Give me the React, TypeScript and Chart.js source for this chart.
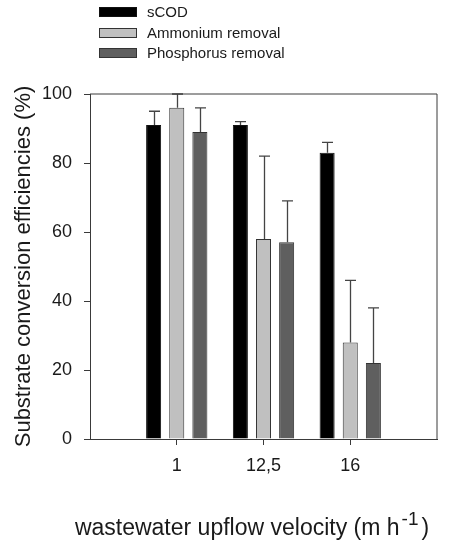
import React, { useEffect, useRef } from 'react';
import { Chart, registerables } from 'chart.js';

Chart.register(...registerables);

const categories = ['', '1', '12,5', '16', ''];
const seriesNames = ['sCOD', 'Ammonium removal', 'Phosphorus removal'];
const scodValues = [null, 91, 91, 83, null];
const ammoniumValues = [null, 96, 58, 28, null];
const phosphorusValues = [null, 89, 57, 22, null];
const scodErrors = [null, 4, 1, 3, null];
const ammoniumErrors = [null, 4, 24, 18, null];
const phosphorusErrors = [null, 7, 12, 16, null];
const yMin = 0;
const yMax = 100;
const yStep = 20;
const yTitle = 'Substrate conversion efficiencies (%)';
const xTitleMain = 'wastewater upflow velocity (m h';
const xTitleSup = '-1';
const xTitleEnd = ')';

const FONT = '"Liberation Sans", Arial, Helvetica, sans-serif';
const fills = ['#000000', '#c0c0c0', '#5f5f5f'];
const borders = ['#111111', '#333333', '#333333'];
const AXIS = '#3a3a3a';

const errorBarPlugin = {
  id: 'errorBars',
  afterDatasetsDraw(chart: any) {
    const ctx = chart.ctx;
    const yScale = chart.scales.y;
    ctx.save();
    ctx.strokeStyle = '#444444';
    ctx.lineWidth = 1.3;
    chart.data.datasets.forEach((ds: any, i: number) => {
      const meta = chart.getDatasetMeta(i);
      meta.data.forEach((el: any, j: number) => {
        const v = ds.data[j];
        const e = ds.errors[j];
        if (v == null || e == null) return;
        const yTop = yScale.getPixelForValue(v + e);
        const x = Math.round(el.x) + 0.5;
        ctx.beginPath();
        ctx.moveTo(x, el.y);
        ctx.lineTo(x, yTop);
        ctx.moveTo(x - 5.5, yTop);
        ctx.lineTo(x + 5.5, yTop);
        ctx.stroke();
      });
    });
    ctx.restore();
  },
};

const framePlugin = {
  id: 'frame',
  afterDraw(chart: any) {
    const { ctx, chartArea } = chart;
    ctx.save();
    ctx.strokeStyle = AXIS;
    ctx.lineWidth = 1;
    ctx.beginPath();
    ctx.moveTo(chartArea.left, chartArea.top);
    ctx.lineTo(chartArea.right, chartArea.top);
    ctx.lineTo(chartArea.right, chartArea.bottom);
    ctx.stroke();
    ctx.restore();
  },
};

const legendPlugin = {
  id: 'customLegend',
  afterDraw(chart: any) {
    const ctx = chart.ctx;
    ctx.save();
    const rowY = [12, 33, 53];
    chart.data.datasets.forEach((ds: any, i: number) => {
      const cy = rowY[i];
      ctx.fillStyle = ds.backgroundColor;
      ctx.fillRect(99, cy - 4.5, 38, 9);
      ctx.strokeStyle = ds.borderColor;
      ctx.lineWidth = 1;
      ctx.strokeRect(99.5, cy - 4.5, 37, 9);
      ctx.fillStyle = '#1a1a1a';
      ctx.font = `15px ${FONT}`;
      ctx.textBaseline = 'middle';
      ctx.textAlign = 'left';
      ctx.fillText(ds.label, 147, cy + 1);
    });
    ctx.restore();
  },
};

const xTitlePlugin = {
  id: 'xTitle',
  afterDraw(chart: any) {
    const ctx = chart.ctx;
    ctx.save();
    ctx.fillStyle = '#1a1a1a';
    ctx.textBaseline = 'alphabetic';
    ctx.textAlign = 'left';
    const mainFont = `23px ${FONT}`;
    const supFont = `19px ${FONT}`;
    ctx.font = mainFont;
    const w1 = ctx.measureText(xTitleMain).width;
    const w3 = ctx.measureText(xTitleEnd).width;
    ctx.font = supFont;
    const w2 = ctx.measureText(xTitleSup).width;
    const total = w1 + 2 + w2 + 3 + w3;
    let x = 252 - total / 2;
    const baseY = 535;
    ctx.font = mainFont;
    ctx.fillText(xTitleMain, x, baseY);
    x += w1 + 2;
    ctx.font = supFont;
    ctx.fillText(xTitleSup, x, baseY - 10);
    x += w2 + 3;
    ctx.font = mainFont;
    ctx.fillText(xTitleEnd, x, baseY);
    ctx.restore();
  },
};

export default function App() {
  const canvasRef = useRef<HTMLCanvasElement | null>(null);

  useEffect(() => {
    const canvas = canvasRef.current;
    if (!canvas) return;
    const values = [scodValues, ammoniumValues, phosphorusValues];
    const errors = [scodErrors, ammoniumErrors, phosphorusErrors];
    const chart = new Chart(canvas, {
      type: 'bar',
      data: {
        labels: categories,
        datasets: seriesNames.map((name, i) => ({
          label: name,
          data: values[i],
          errors: errors[i],
          backgroundColor: fills[i],
          borderColor: borders[i],
          borderWidth: 1,
          categoryPercentage: 0.8,
          barPercentage: 0.65,
        })) as any,
      },
      options: {
        responsive: false,
        animation: false,
        devicePixelRatio: 1,
        layout: { padding: { top: 94, right: 20, left: 0, bottom: 0 } },
        plugins: {
          legend: { display: false },
          tooltip: { enabled: false },
        },
        scales: {
          x: {
            type: 'category',
            offset: false,
            afterFit: (scale: any) => {
              scale.height = 102;
            },
            grid: {
              offset: false,
              drawOnChartArea: false,
              drawTicks: true,
              tickLength: 6,
              color: AXIS,
              tickColor: (c: any) => (c.index === 0 || c.index === 4 ? 'rgba(0,0,0,0)' : AXIS),
            },
            border: { display: true, color: AXIS, width: 1 },
            ticks: {
              autoSkip: false,
              maxRotation: 0,
              padding: 10,
              color: '#1a1a1a',
              font: { family: FONT, size: 18 },
            },
          },
          y: {
            min: yMin,
            max: yMax,
            afterFit: (scale: any) => {
              scale.width = 90;
            },
            grid: {
              drawOnChartArea: false,
              drawTicks: true,
              tickLength: 6,
              color: AXIS,
            },
            border: { display: true, color: AXIS, width: 1 },
            ticks: {
              stepSize: yStep,
              padding: 12,
              color: '#1a1a1a',
              font: { family: FONT, size: 18 },
            },
            title: {
              display: true,
              text: yTitle,
              color: '#1a1a1a',
              font: { family: FONT, size: 22 },
              padding: { top: 11, bottom: 0 },
            },
          },
        },
      } as any,
      plugins: [errorBarPlugin, framePlugin, legendPlugin, xTitlePlugin],
    });
    return () => chart.destroy();
  }, []);

  return (
    <div style={{ position: 'fixed', left: 0, top: 0, width: 457, height: 541, background: '#fff' }}>
      <canvas ref={canvasRef} width={457} height={541} style={{ display: 'block' }} />
    </div>
  );
}
